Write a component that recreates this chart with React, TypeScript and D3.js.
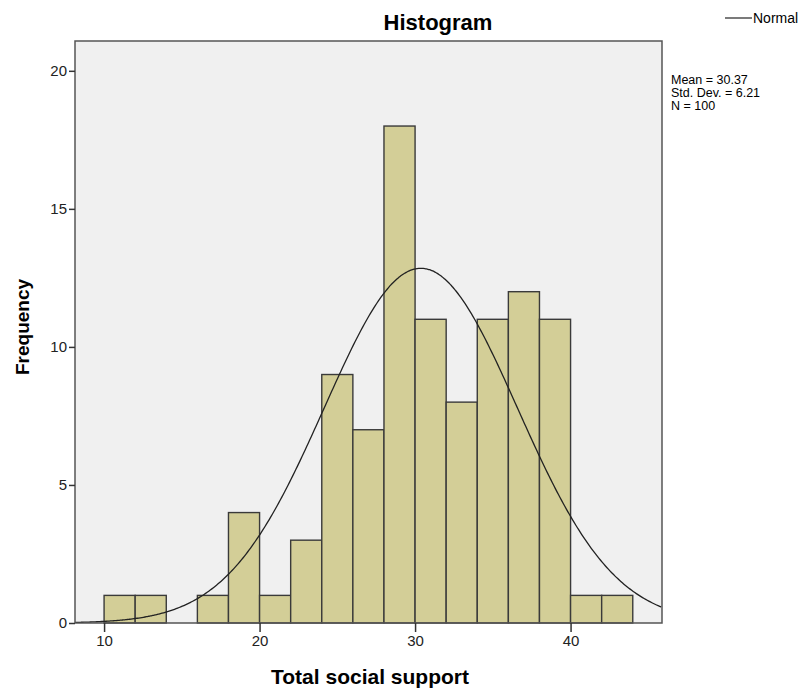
import { useEffect, useRef } from 'react';
import * as d3 from 'd3';

// histogram bins (lower edge) and counts
const binStarts = [10, 12, 14, 16, 18, 20, 22, 24, 26, 28, 30, 32, 34, 36, 38, 40, 42];
const counts = [1, 1, 0, 1, 4, 1, 3, 9, 7, 18, 11, 8, 11, 12, 11, 1, 1];
const binWidth = 2;

const xTicks = [10, 20, 30, 40];
const yTicks = [0, 5, 10, 15, 20];

const mean = 30.37;
const sd = 6.21;
const n = 100;
const statLines = ['Mean = 30.37', 'Std. Dev. = 6.21', 'N = 100'];

export default function App() {
    const ref = useRef<SVGSVGElement>(null);

    useEffect(() => {
        const svg = d3.select(ref.current);
        svg.selectAll('*').remove();

        const left = 75, right = 662, top = 41, bottom = 623;
        const font = 'Liberation Sans, Arial, sans-serif';

        const x = d3.scaleLinear().domain([8.13, 45.88]).range([left, right]);
        const y = d3.scaleLinear().domain([0, 21.08]).range([bottom, top]);

        // plot background
        svg.append('rect')
            .attr('x', left).attr('y', top)
            .attr('width', right - left).attr('height', bottom - top)
            .attr('fill', '#f0f0f0');

        // bars
        svg.selectAll('.bar')
            .data(binStarts.map((b, i) => ({ b, c: counts[i] })).filter(d => d.c > 0))
            .enter().append('rect')
            .attr('class', 'bar')
            .attr('x', d => x(d.b))
            .attr('y', d => y(d.c))
            .attr('width', d => x(d.b + binWidth) - x(d.b))
            .attr('height', d => y(0) - y(d.c))
            .attr('fill', '#d3ce97')
            .attr('stroke', '#3a3a3a')
            .attr('stroke-width', 1.4);

        // normal curve
        const pts = d3.range(8.13, 45.9, 0.1).map(v => [v, n * binWidth * Math.exp(-0.5 * ((v - mean) / sd) ** 2) / (sd * Math.sqrt(2 * Math.PI))]);
        svg.append('path')
            .attr('d', d3.line<number[]>().x(d => x(d[0])).y(d => y(d[1])).curve(d3.curveBasis)(pts))
            .attr('fill', 'none')
            .attr('stroke', '#222')
            .attr('stroke-width', 1.3);

        // frame
        svg.append('rect')
            .attr('x', left).attr('y', top)
            .attr('width', right - left).attr('height', bottom - top)
            .attr('fill', 'none')
            .attr('stroke', '#555')
            .attr('stroke-width', 1.5);

        // x axis
        const xAxis = d3.axisBottom(x).tickValues(xTicks).tickSize(9).tickPadding(3).tickFormat(d3.format('d'));
        const gx = svg.append('g').attr('transform', `translate(0,${bottom})`).call(xAxis);
        gx.select('.domain').remove();
        gx.selectAll('line').attr('stroke', '#333').attr('stroke-width', 1.5);
        gx.selectAll('text').attr('font-family', font).attr('font-size', 15).attr('fill', '#222');

        // y axis
        const yAxis = d3.axisLeft(y).tickValues(yTicks).tickSize(6).tickPadding(2).tickFormat(d3.format('d'));
        const gy = svg.append('g').attr('transform', `translate(${left},0)`).call(yAxis);
        gy.select('.domain').remove();
        gy.selectAll('line').attr('stroke', '#333').attr('stroke-width', 1.5);
        gy.selectAll('text').attr('font-family', font).attr('font-size', 15).attr('fill', '#222');

        // title and labels
        svg.append('text')
            .attr('x', 438).attr('y', 30)
            .attr('text-anchor', 'middle')
            .attr('font-family', font).attr('font-weight', 'bold').attr('font-size', 22)
            .text('Histogram');

        svg.append('text')
            .attr('x', 370).attr('y', 684)
            .attr('text-anchor', 'middle')
            .attr('font-family', font).attr('font-weight', 'bold').attr('font-size', 21)
            .text('Total social support');

        svg.append('text')
            .attr('transform', 'translate(29,327) rotate(-90)')
            .attr('text-anchor', 'middle')
            .attr('font-family', font).attr('font-weight', 'bold').attr('font-size', 19)
            .text('Frequency');

        // legend
        svg.append('line')
            .attr('x1', 725).attr('x2', 752).attr('y1', 18).attr('y2', 18)
            .attr('stroke', '#333').attr('stroke-width', 1.3);
        svg.append('text')
            .attr('x', 753).attr('y', 23)
            .attr('font-family', font).attr('font-size', 14)
            .text('Normal');

        // stats
        svg.selectAll('.stat')
            .data(statLines).enter()
            .append('text')
            .attr('class', 'stat')
            .attr('x', 671)
            .attr('y', (d, i) => 84 + i * 13)
            .attr('font-family', font).attr('font-size', 12.5)
            .text(d => d);
    }, []);

    return (
        <svg ref={ref} width={804} height={690} style={{ position: 'absolute', left: 0, top: 0, background: '#fff' }} />
    );
}
